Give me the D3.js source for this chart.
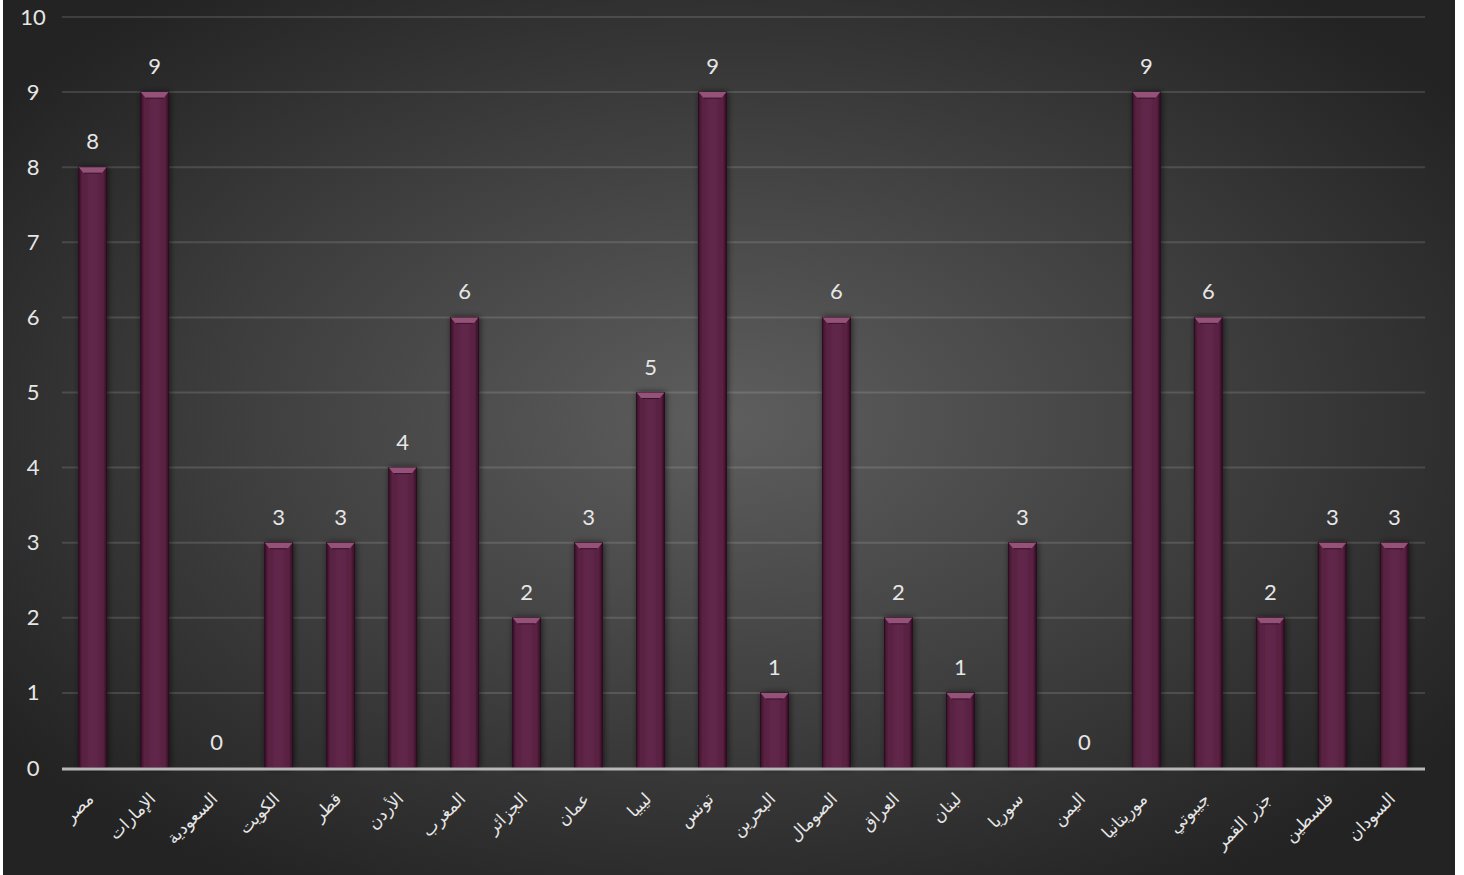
<!DOCTYPE html>
<html>
<head>
<meta charset="utf-8">
<script src="https://cdn.jsdelivr.net/npm/d3@7/dist/d3.min.js"></script>
<style>
  html, body { margin: 0; padding: 0; background: #fff; }
  svg { display: block; }
  text { font-family: "Lato", "Open Sans", sans-serif; }
</style>
</head>
<body>
<div id="chart"></div>
<script>
var countries = ["مصر", "الإمارات", "السعودية", "الكويت", "قطر", "الأردن", "المغرب", "الجزائر",
                 "عمان", "ليبيا", "تونس", "البحرين", "الصومال", "العراق", "لبنان", "سوريا",
                 "اليمن", "موريتانيا", "جيبوتي", "جزر القمر", "فلسطين", "السودان"];
var values = [8, 9, 0, 3, 3, 4, 6, 2, 3, 5, 9, 1, 6, 2, 1, 3, 0, 9, 6, 2, 3, 3];
var yTicks = [0, 1, 2, 3, 4, 5, 6, 7, 8, 9, 10];

function init(){
    var w = 1464;
    var h = 875;
    var left = 62, right = 1425, top = 17, bottom = 768;

    var svg = d3.select("#chart")
                .append("svg")
                .attr("width", w)
                .attr("height", h);

    var defs = svg.append("defs");

    var bg = defs.append("radialGradient")
                .attr("id", "bg")
                .attr("cx", "50%").attr("cy", "48%")
                .attr("r", "62%");
    bg.append("stop").attr("offset", "0%").attr("stop-color", "#5e5e5e");
    bg.append("stop").attr("offset", "55%").attr("stop-color", "#3e3e3e");
    bg.append("stop").attr("offset", "100%").attr("stop-color", "#232323");

    var barGrad = defs.append("linearGradient")
                .attr("id", "bar")
                .attr("x1", "0%").attr("x2", "100%");
    barGrad.append("stop").attr("offset", "0%").attr("stop-color", "#3a0f2c");
    barGrad.append("stop").attr("offset", "12%").attr("stop-color", "#57213f");
    barGrad.append("stop").attr("offset", "50%").attr("stop-color", "#62284c");
    barGrad.append("stop").attr("offset", "88%").attr("stop-color", "#57213f");
    barGrad.append("stop").attr("offset", "100%").attr("stop-color", "#340c27");

    var shadow = defs.append("filter")
                .attr("id", "shadow")
                .attr("x", "-50%").attr("y", "-10%")
                .attr("width", "200%").attr("height", "120%");
    shadow.append("feGaussianBlur").attr("in", "SourceAlpha").attr("stdDeviation", 3);
    shadow.append("feOffset").attr("dx", 1).attr("dy", 0).attr("result", "b");
    shadow.append("feComponentTransfer").append("feFuncA").attr("type", "linear").attr("slope", 0.6);
    var merge = shadow.append("feMerge");
    merge.append("feMergeNode");
    merge.append("feMergeNode").attr("in", "SourceGraphic");

    svg.append("rect")
        .attr("x", 3).attr("y", 0)
        .attr("width", 1452).attr("height", h)
        .attr("fill", "url(#bg)");

    var x = d3.scaleBand()
                .domain(countries)
                .range([left, right])
                .paddingInner(0.55)
                .paddingOuter(0.27);

    var y = d3.scaleLinear()
                .domain([0, 10])
                .range([bottom, top]);

    // gridlines
    svg.append("g")
        .selectAll("line")
        .data(yTicks.filter(function(d){ return d > 0; }))
        .enter()
        .append("line")
        .attr("x1", left).attr("x2", right)
        .attr("y1", function(d){ return y(d); })
        .attr("y2", function(d){ return y(d); })
        .attr("stroke", "rgba(255,255,255,0.13)")
        .attr("stroke-width", 2);

    // y axis labels
    var yAxis = d3.axisLeft(y).tickValues(yTicks).tickSize(0).tickPadding(0);
    var gy = svg.append("g")
        .attr("transform", "translate(33,0)")
        .call(yAxis);
    gy.select(".domain").remove();
    gy.selectAll("text")
        .attr("text-anchor", "middle")
        .attr("fill", "#e6e6e6")
        .style("font-family", "Lato, sans-serif")
        .style("font-size", "22px");

    // bars
    var barG = svg.append("g");
    values.forEach(function(v, i){
        if (v <= 0) return;
        var bx = x(countries[i]), bw = x.bandwidth(), by = y(v);
        barG.append("rect")
            .attr("x", bx).attr("y", by)
            .attr("width", bw).attr("height", bottom - by)
            .attr("fill", "url(#bar)")
            .attr("stroke", "#2a0a1f")
            .attr("stroke-width", 1)
            .attr("filter", "url(#shadow)");
        // top bevel
        barG.append("path")
            .attr("d", "M" + bx + "," + by + "L" + (bx + bw) + "," + by +
                       "L" + (bx + bw - 5) + "," + (by + 6) + "L" + (bx + 5) + "," + (by + 6) + "Z")
            .attr("fill", "#955279");
        barG.append("line")
            .attr("x1", bx + 5).attr("x2", bx + bw - 5)
            .attr("y1", by + 6).attr("y2", by + 6)
            .attr("stroke", "#3a0f2c").attr("stroke-width", 1);
    });

    // value labels
    svg.append("g")
        .selectAll("text")
        .data(values)
        .enter()
        .append("text")
        .attr("x", function(d, i){ return x(countries[i]) + x.bandwidth() / 2; })
        .attr("y", function(d){ return y(d) - 18; })
        .attr("text-anchor", "middle")
        .attr("fill", "#e6e6e6")
        .style("font-size", "22px")
        .text(function(d){ return d; });

    // baseline
    svg.append("line")
        .attr("x1", left).attr("x2", right)
        .attr("y1", bottom + 1).attr("y2", bottom + 1)
        .attr("stroke", "#b8b8b8")
        .attr("stroke-width", 3);

    // x labels
    svg.append("g")
        .selectAll("text")
        .data(countries)
        .enter()
        .append("text")
        .attr("transform", function(d){
            return "translate(" + (x(d) + x.bandwidth() / 2 + 2) + "," + (bottom + 32) + ") rotate(-45)";
        })
        .attr("text-anchor", "end")
        .attr("fill", "#e6e6e6")
        .style("font-family", "'DejaVu Sans', sans-serif")
        .style("font-size", "17px")
        .text(function(d){ return d; });
}
window.onload = init;
</script>
</body>
</html>
